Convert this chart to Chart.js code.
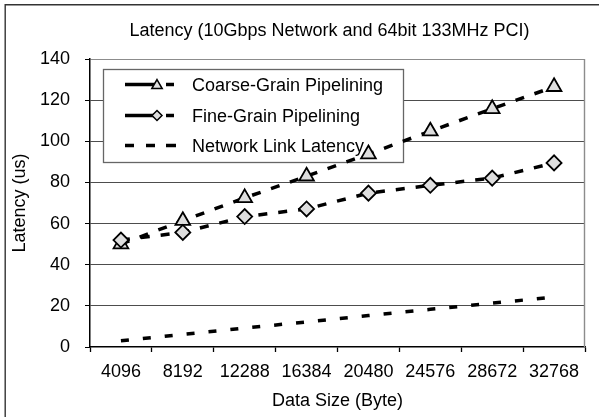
<!DOCTYPE html>
<html><head><meta charset="utf-8">
<script src="https://cdn.jsdelivr.net/npm/chart.js@4.4.1/dist/chart.umd.min.js"></script>
<style>html,body{margin:0;padding:0;background:#fff;}#wrap{width:599px;height:417px;position:relative;}</style>
</head><body><div id="wrap"><canvas id="c" width="599" height="417"></canvas></div>
<script>
const categories = ['4096','8192','12288','16384','20480','24576','28672','32768'];
const coarseGrain = [50, 61.4, 72.5, 83, 93.8, 104.9, 115.8, 126.5];
const fineGrain = [52, 55.7, 63.4, 67.1, 74.8, 78.6, 82.1, 89.5];
const networkLink = [3.0, 6.1, 9.2, 12.2, 15.3, 18.3, 21.3, 24.3];
const seriesNames = ['Coarse-Grain Pipelining', 'Fine-Grain Pipelining', 'Network Link Latency'];
const yMin = 0, yMax = 140, yStep = 20;
const chartTitle = 'Latency (10Gbps Network and 64bit 133MHz PCI)';
const xTitle = 'Data Size (Byte)';
const yTitle = 'Latency (us)';

const FONT = "'Liberation Sans', Arial, sans-serif";
Chart.defaults.font.family = FONT;
Chart.defaults.color = '#000';

function drawMarker(ctx, style, r, x, y) {
  ctx.save();
  ctx.fillStyle = '#dedede'; ctx.strokeStyle = '#000'; ctx.lineWidth = 1.5; ctx.setLineDash([]);
  ctx.beginPath();
  if (style === 'triangle') {
    let a = 0;
    ctx.moveTo(x + Math.sin(a) * r, y - Math.cos(a) * r);
    a += 2 * Math.PI / 3; ctx.lineTo(x + Math.sin(a) * r, y - Math.cos(a) * r);
    a += 2 * Math.PI / 3; ctx.lineTo(x + Math.sin(a) * r, y - Math.cos(a) * r);
  } else {
    ctx.moveTo(x, y - r); ctx.lineTo(x + r, y); ctx.lineTo(x, y + r); ctx.lineTo(x - r, y);
  }
  ctx.closePath(); ctx.fill(); ctx.stroke();
  ctx.restore();
}

const framePlugin = {
  id: 'frame',
  afterLayout(chart) {
    const t = chart.titleBlock;
    if (t) { t.left = 60; t.right = 599; }
  },
  beforeDraw(chart) {
    const ctx = chart.ctx;
    ctx.save();
    ctx.strokeStyle = '#333'; ctx.lineWidth = 1.4;
    ctx.beginPath(); ctx.moveTo(5.2, 420); ctx.lineTo(5.2, 4.7); ctx.lineTo(605, 4.7); ctx.stroke();
    ctx.restore();
  },
  beforeDatasetsDraw(chart) {
    const ctx = chart.ctx, a = chart.chartArea;
    ctx.save();
    ctx.strokeStyle = '#8c8c8c'; ctx.lineWidth = 1.4;
    ctx.beginPath(); ctx.moveTo(a.right - 0.5, a.top); ctx.lineTo(a.right - 0.5, a.bottom); ctx.stroke();
    // legend box
    const bx = 103.5, by = 69.5, bw = 300, bh = 93;
    ctx.fillStyle = '#fff'; ctx.fillRect(bx, by, bw, bh);
    ctx.strokeStyle = '#666'; ctx.lineWidth = 1.3; ctx.strokeRect(bx, by, bw, bh);
    const rows = [84.5, 115.5, 145.5];
    chart.data.datasets.forEach((ds, i) => {
      const y = rows[i];
      ctx.strokeStyle = '#000'; ctx.lineWidth = 3.5; ctx.lineCap = 'butt'; ctx.setLineDash([]);
      if (ds.pointRadius > 0) {
        ctx.beginPath(); ctx.moveTo(125, y); ctx.lineTo(155, y); ctx.stroke();
        ctx.beginPath(); ctx.moveTo(166, y); ctx.lineTo(174, y); ctx.stroke();
        drawMarker(ctx, ds.pointStyle, ds.pointStyle === 'triangle' ? 6 : 5, 157, ds.pointStyle === 'triangle' ? y + 1 : y);
      } else {
        [[125, 134], [146, 155], [166, 176]].forEach(s => {
          ctx.beginPath(); ctx.moveTo(s[0], y); ctx.lineTo(s[1], y); ctx.stroke();
        });
      }
      ctx.fillStyle = '#000'; ctx.font = '18px ' + FONT; ctx.textBaseline = 'middle'; ctx.textAlign = 'left';
      ctx.fillText(ds.label, 192, y + 1.5);
    });
    ctx.restore();
  }
};

new Chart(document.getElementById('c'), {
  type: 'line',
  data: {
    labels: categories,
    datasets: [
      { label: seriesNames[0], data: coarseGrain, order: 1, borderColor: '#000', borderWidth: 3.5, borderDash: [9, 11],
        pointStyle: 'triangle', pointRadius: 8.5, pointBackgroundColor: '#dedede', pointBorderColor: '#000', pointBorderWidth: 1.8, tension: 0, fill: false },
      { label: seriesNames[1], data: fineGrain, order: 0, borderColor: '#000', borderWidth: 3.5, borderDash: [9, 11],
        pointStyle: 'rectRot', pointRadius: 7.5, pointBackgroundColor: '#dedede', pointBorderColor: '#000', pointBorderWidth: 1.8, tension: 0, fill: false },
      { label: seriesNames[2], data: networkLink, order: 2, borderColor: '#000', borderWidth: 3.5, borderDash: [8, 14],
        pointRadius: 0, tension: 0, fill: false }
    ]
  },
  options: {
    responsive: false, animation: false, devicePixelRatio: 1,
    layout: { padding: { left: 0, right: 14, top: 0, bottom: 0 } },
    plugins: {
      legend: { display: false }, tooltip: { enabled: false },
      title: { display: true, text: chartTitle, color: '#000', font: { size: 18, weight: 'normal', family: FONT }, padding: { top: 20, bottom: 17.4 } }
    },
    scales: {
      x: {
        type: 'category', offset: true,
        grid: { display: true, offset: true, drawOnChartArea: false, drawTicks: true, tickLength: 5, tickColor: '#000', tickWidth: 1.3 },
        border: { display: true, color: '#000', width: 1.5 },
        ticks: { color: '#000', font: { size: 18 }, padding: 9.7, maxRotation: 0, autoSkip: false },
        title: { display: true, text: xTitle, color: '#000', font: { size: 18 }, padding: { top: 0, bottom: 5.2 } },
        afterFit(s) { s.height = 70; }
      },
      y: {
        min: yMin, max: yMax,
        grid: { drawTicks: true, tickLength: 5, tickColor: '#000', lineWidth: 1,
          color: c => c.tick && c.tick.value === yMax ? '#8c8c8c' : (c.tick && c.tick.value === yMin ? 'rgba(0,0,0,0)' : '#4d4d4d') },
        border: { display: true, color: '#000', width: 1.5 },
        ticks: { stepSize: yStep, color: '#000', font: { size: 18 }, padding: 15 },
        title: { display: true, text: yTitle, color: '#000', font: { size: 18 }, padding: { top: 9.5, bottom: 0 } },
        afterFit(s) { s.width = 90; }
      }
    }
  },
  plugins: [framePlugin]
});
</script></body></html>
